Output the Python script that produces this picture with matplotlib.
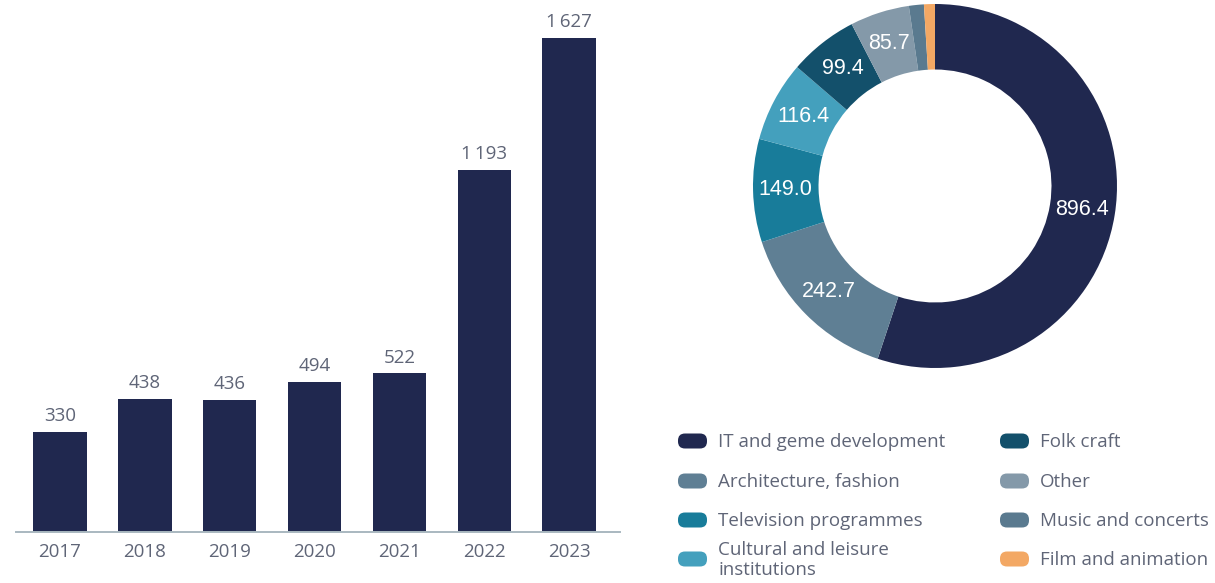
import matplotlib
matplotlib.use("Agg")
import matplotlib.pyplot as plt
from matplotlib.patches import FancyBboxPatch
import numpy as np

# Annual totals
years = ["2017", "2018", "2019", "2020", "2021", "2022", "2023"]
totals = [330, 438, 436, 494, 522, 1193, 1627]

# 2023 breakdown by sector
sectors = [
    "IT and geme development",
    "Architecture, fashion",
    "Television programmes",
    "Cultural and leisure\ninstitutions",
    "Folk craft",
    "Other",
    "Music and concerts",
    "Film and animation",
]
sector_values = [896.4, 242.7, 149.0, 116.4, 99.4, 85.7, 21.6, 15.8]
sector_colors = ["#20284f", "#5f7f94", "#187c9a", "#44a0bd",
                 "#13506b", "#8499a9", "#5a7a8f", "#f3a864"]
labelled = [True, True, True, True, True, True, False, False]

TEXT = "#5f6577"
BAR = "#20284f"
FONT = ["Open Sans", "DejaVu Sans"]

W, H = 1215, 583
fig = plt.figure(figsize=(W / 100, H / 100), dpi=100)
fig.patch.set_facecolor("white")


def px_axes(x0, y0, x1, y1):
    """Axes spanning a pixel box (top-left origin)."""
    return fig.add_axes([x0 / W, 1 - y1 / H, (x1 - x0) / W, (y1 - y0) / H])


# ---- bar chart ----
ax = px_axes(16, 20, 620, 532)
x = np.arange(len(years))
ax.bar(x, totals, width=0.63, color=BAR, zorder=2)
ax.set_xlim(-0.519, 6.60)
ax.set_ylim(0, 1686)
for xi, v in zip(x, totals):
    txt = f"{v:,}".replace(",", "\u2009")
    ax.annotate(txt, (xi, v), xytext=(0, 5), textcoords="offset points",
                ha="center", va="bottom", fontsize=13.5, color=TEXT, family=FONT)
ax.set_xticks(x)
ax.set_xticklabels(years, fontsize=13.5, color=TEXT, family=FONT)
ax.tick_params(axis="x", length=0, pad=8)
ax.set_yticks([])
for s in ["top", "right", "left"]:
    ax.spines[s].set_visible(False)
ax.spines["bottom"].set_color("#a9b8c0")
ax.spines["bottom"].set_linewidth(1.4)
ax.patch.set_alpha(0)

# ---- donut ----
cx, cy, r = 935, 186, 182
dax = px_axes(cx - r, cy - r, cx + r, cy + r)
wedges, _ = dax.pie(sector_values, colors=sector_colors, startangle=90,
                    counterclock=False, radius=1.0,
                    wedgeprops=dict(width=0.36, linewidth=0))
dax.set_xlim(-1, 1)
dax.set_ylim(-1, 1)
dax.set_aspect("equal")
dax.axis("off")
for w, v, show in zip(wedges, sector_values, labelled):
    if not show:
        continue
    ang = np.deg2rad((w.theta1 + w.theta2) / 2)
    rr = 0.82
    dax.text(rr * np.cos(ang), rr * np.sin(ang), f"{v:.1f}",
             ha="center", va="center", color="white", fontsize=15.5,
             family=["Liberation Sans", "DejaVu Sans"])

# ---- legend ----
lax = fig.add_axes([0, 0, 1, 1], zorder=5)
lax.set_xlim(0, W)
lax.set_ylim(H, 0)
lax.axis("off")
col_x = [678, 1000]
row_y = [441, 481, 520, 559]
for i, (name, col) in enumerate(zip(sectors, sector_colors)):
    c, rrow = divmod(i, 4)
    mx, my = col_x[c], row_y[rrow]
    pill = FancyBboxPatch((mx + 7, my - 0.5), 15, 1,
                          boxstyle="round,pad=7", linewidth=0,
                          facecolor=col, mutation_aspect=1)
    lax.add_patch(pill)
    lax.text(mx + 40, my + 1, name, ha="left", va="center", fontsize=13.5,
             color=TEXT, family=FONT, linespacing=1.15)

fig.savefig("out.png", dpi=100, facecolor="white")
